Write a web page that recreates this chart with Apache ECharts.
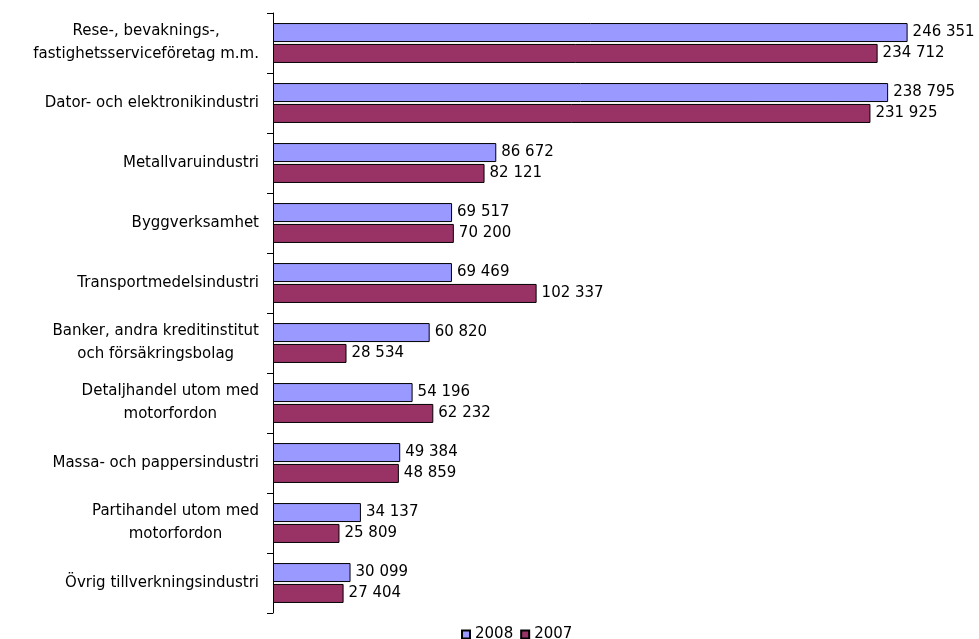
<!DOCTYPE html>
<html>
<head>
<meta charset="utf-8">
<script src="https://cdn.jsdelivr.net/npm/echarts@6/dist/echarts.min.js"></script>
<style>html,body{margin:0;padding:0;background:#fff}#chart{width:979px;height:639px}</style>
</head>
<body>
<div id="chart"></div>
<script>
const categories = [
  "Rese-, bevaknings-,\nfastighetsserviceföretag m.m.",
  "Dator- och elektronikindustri",
  "Metallvaruindustri",
  "Byggverksamhet",
  "Transportmedelsindustri",
  "Banker, andra kreditinstitut\noch försäkringsbolag",
  "Detaljhandel utom med\nmotorfordon",
  "Massa- och pappersindustri",
  "Partihandel utom med\nmotorfordon",
  "Övrig tillverkningsindustri"
];
const values2008 = [246351, 238795, 86672, 69517, 69469, 60820, 54196, 49384, 34137, 30099];
const values2007 = [234712, 231925, 82121, 70200, 102337, 28534, 62232, 48859, 25809, 27404];
const seriesNames = ["2008", "2007"];

const FONT = "DejaVu Sans";
function fmt(v) { return String(v).replace(/\B(?=(\d{3})+(?!\d))/g, " "); }

const chart = echarts.init(document.getElementById('chart'), null, {renderer: 'canvas'});
const labelCfg = {
  show: true, position: 'right', distance: 5, color: '#000',
  fontFamily: FONT, fontSize: 15,
  formatter: p => fmt(p.value)
};
chart.setOption({
  animation: false,
  backgroundColor: '#fff',
  grid: {left: 273, right: 62, top: 13, bottom: 26, containLabel: false},
  xAxis: {
    type: 'value', min: 0, max: 250000,
    show: false, splitLine: {show: false}
  },
  yAxis: {
    type: 'category', data: categories, inverse: true,
    axisLine: {show: true, lineStyle: {color: '#000', width: 1}},
    axisTick: {show: true, length: 6, lineStyle: {color: '#000'}},
    axisLabel: {
      margin: 14, color: '#000', fontFamily: FONT, fontSize: 15, align: 'right',
      lineHeight: 23,
      formatter: v => v.split('\n').map(l => '{c|' + l + '}').join('\n'),
      rich: {c: {align: 'center', fontFamily: FONT, fontSize: 15, lineHeight: 23, color: '#000'}}
    }
  },
  legend: {
    data: seriesNames, left: 456, top: 622,
    itemWidth: 8, itemHeight: 8, itemGap: 7,
    icon: 'rect',
    textStyle: {fontFamily: FONT, fontSize: 15, color: '#000'}
  },
  series: [
    {
      name: seriesNames[0], type: 'bar', data: values2008,
      barWidth: 19, barGap: '10%',
      itemStyle: {color: '#9999FF', borderColor: '#000', borderWidth: 1},
      label: labelCfg
    },
    {
      name: seriesNames[1], type: 'bar', data: values2007,
      barWidth: 19, barGap: '10%',
      itemStyle: {color: '#993366', borderColor: '#000', borderWidth: 1},
      label: labelCfg
    }
  ]
});
</script>
</body>
</html>
